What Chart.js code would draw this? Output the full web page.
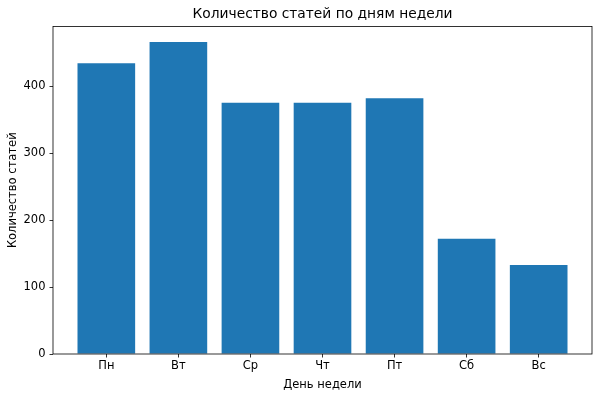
<!DOCTYPE html>
<html>
<head>
<meta charset="utf-8">
<script src="https://cdn.jsdelivr.net/npm/chart.js"></script>
<style>
  html, body { margin: 0; padding: 0; background: #fff; }
  #wrap { width: 600px; height: 397px; }
</style>
</head>
<body>
<div id="wrap"><canvas id="chart" width="600" height="397"></canvas></div>
<script>
// data
const days = ["Пн", "Вт", "Ср", "Чт", "Пт", "Сб", "Вс"];
const articleCounts = [434, 466, 375, 375, 382, 172, 133];
const yTicks = [0, 100, 200, 300, 400];

const titleText = "Количество статей по дням недели";
const xTitle = "День недели";
const yTitle = "Количество статей";

const FONT = "'DejaVu Sans', sans-serif";
Chart.defaults.font.family = FONT;
Chart.defaults.color = "#000";

// box frame + title centered over the plot area (matplotlib style)
const framePlugin = {
  id: "frame",
  afterDraw(chart) {
    const { ctx, chartArea: a } = chart;
    ctx.save();
    ctx.strokeStyle = "#000";
    ctx.lineWidth = 0.8;
    ctx.strokeRect(a.left, a.top, a.right - a.left, a.bottom - a.top);
    ctx.fillStyle = "#000";
    ctx.font = "13.8px " + FONT;
    ctx.textAlign = "center";
    ctx.textBaseline = "middle";
    ctx.fillText(titleText, (a.left + a.right) / 2, 14.5);
    ctx.restore();
  }
};

new Chart(document.getElementById("chart").getContext("2d"), {
  type: "bar",
  data: {
    datasets: [{
      data: articleCounts.map((v, i) => ({ x: i, y: v })),
      backgroundColor: "#1f77b4",
      borderWidth: 0,
      barPercentage: 0.8,
      categoryPercentage: 1.0
    }]
  },
  options: {
    responsive: false,
    animation: false,
    layout: { padding: { top: 26.5, right: 8, left: 0, bottom: 0 } },
    plugins: { legend: { display: false }, title: { display: false }, tooltip: { enabled: false } },
    scales: {
      x: {
        type: "linear",
        offset: false,
        min: -0.74,
        max: 6.74,
        afterBuildTicks: s => { s.ticks = days.map((_, i) => ({ value: i })); },
        afterFit: s => { s.height = 43; },
        ticks: { callback: v => days[Math.round(v)], font: { size: 11.5 }, padding: 1.5, maxRotation: 0 },
        grid: { offset: false, drawOnChartArea: false, drawTicks: true, tickLength: 3.5, color: "#000", lineWidth: 0.8 },
        border: { display: false },
        title: { display: true, text: xTitle, font: { size: 11.5 }, padding: { top: 0, bottom: 5 } }
      },
      y: {
        min: 0,
        max: 489,
        afterBuildTicks: s => { s.ticks = yTicks.map(v => ({ value: v })); },
        afterFit: s => { s.width = 53; },
        ticks: { font: { size: 11.5 }, padding: 4 },
        grid: { drawOnChartArea: false, drawTicks: true, tickLength: 3.5, color: "#000", lineWidth: 0.8 },
        border: { display: false },
        title: { display: true, text: yTitle, font: { size: 11.5 }, padding: { top: 6, bottom: 0 } }
      }
    }
  },
  plugins: [framePlugin]
});
</script>
</body>
</html>
